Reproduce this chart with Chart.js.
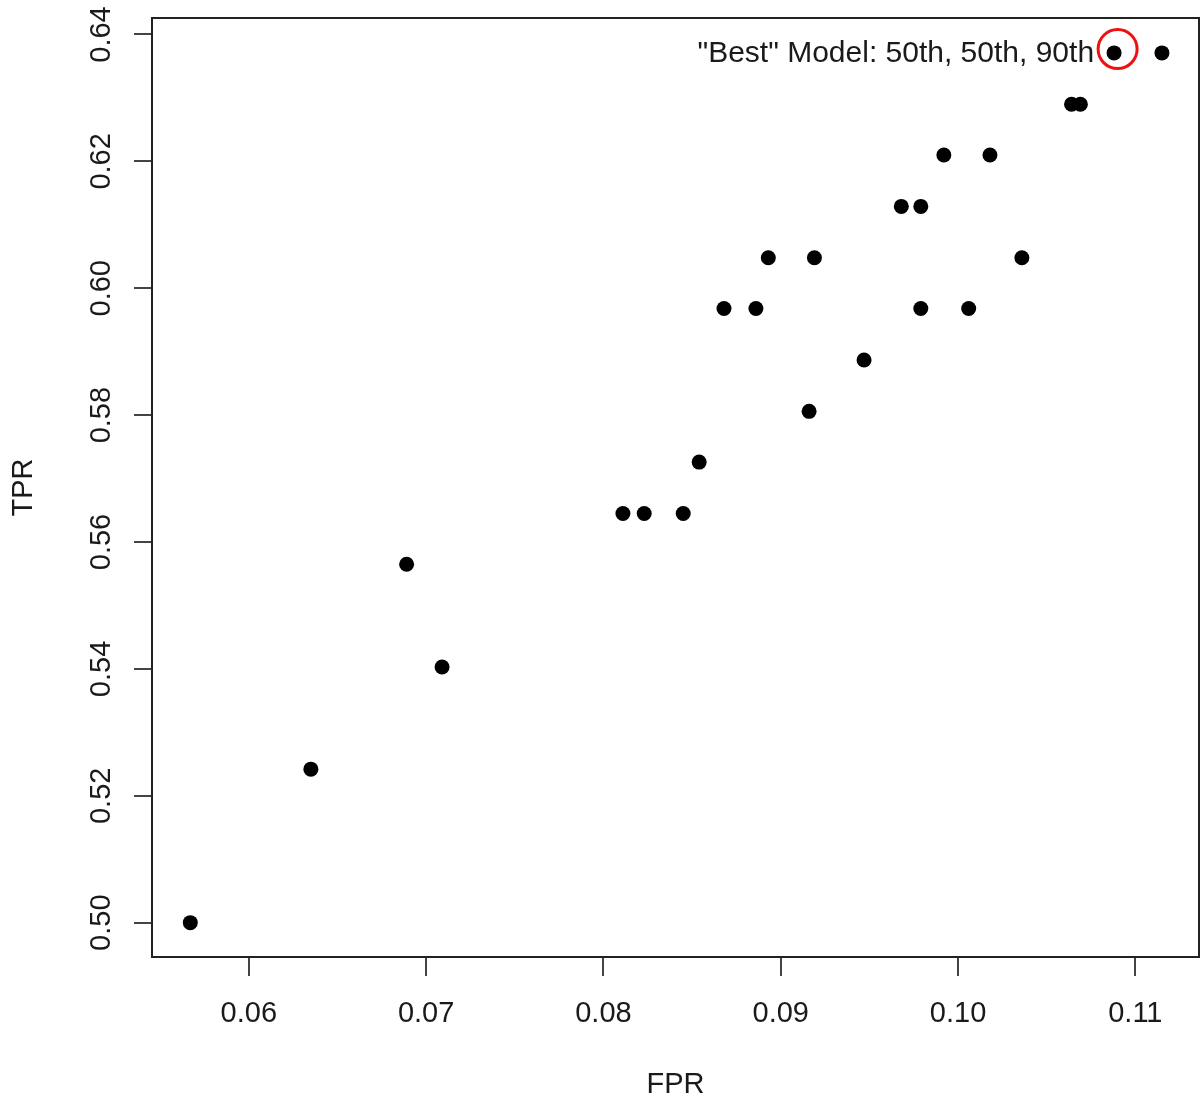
<!DOCTYPE html>
<html>
<head>
<meta charset="utf-8">
<title>TPR vs FPR</title>
<script src="https://cdn.jsdelivr.net/npm/chart.js@4/dist/chart.umd.min.js"></script>
<style>
  html, body { margin: 0; padding: 0; background: #fff; }
  #wrap { width: 1200px; height: 1100px; position: relative; }
</style>
</head>
<body>
<div id="wrap"><canvas id="roc"></canvas></div>
<script>
// FPR / TPR for each model
const fpr = [0.0567, 0.0635, 0.0689, 0.0709, 0.0811, 0.0823, 0.0845, 0.0854, 0.0916, 0.0947,
             0.0868, 0.0886, 0.0979, 0.1006, 0.0893, 0.0919, 0.1036, 0.0968, 0.0979, 0.0992,
             0.1018, 0.1064, 0.1069, 0.1088, 0.1115];
const tpr = [0.5000, 0.5242, 0.5565, 0.5403, 0.5645, 0.5645, 0.5645, 0.5726, 0.5806, 0.5887,
             0.5968, 0.5968, 0.5968, 0.5968, 0.6048, 0.6048, 0.6048, 0.6129, 0.6129, 0.6210,
             0.6210, 0.6290, 0.6290, 0.6371, 0.6371];
// the highlighted model and the red ring drawn round it
const bestPoint = [0.1088, 0.6371];
const ringPoint = [0.1090, 0.6377];
const bestLabel = '"Best" Model: 50th, 50th, 90th';
// axis ticks
const xTicks = [0.06, 0.07, 0.08, 0.09, 0.10, 0.11];
const yTicks = [0.50, 0.52, 0.54, 0.56, 0.58, 0.60, 0.62, 0.64];
const xRange = [0.05454, 0.11359];
const yRange = [0.49459, 0.6426];

;(function () {
  const FONT = "'Liberation Sans', Arial, Helvetica, sans-serif";
  const INK = '#1a1a1a';
  const points = fpr.map((x, i) => ({ x, y: tpr[i] }));

  // box round the plot, rotated y labels (R style), and the annotation text
  const decor = {
    id: 'decor',
    afterDraw(chart) {
      const { ctx, chartArea: a, scales: { x, y } } = chart;
      ctx.save();
      ctx.strokeStyle = '#222';
      ctx.lineWidth = 2;
      ctx.strokeRect(a.left, a.top, a.right - a.left, a.bottom - a.top);

      ctx.fillStyle = INK;
      ctx.font = '29px ' + FONT;
      ctx.textAlign = 'center';
      ctx.textBaseline = 'alphabetic';
      y.ticks.forEach(t => {
        ctx.save();
        ctx.translate(110, y.getPixelForValue(t.value));
        ctx.rotate(-Math.PI / 2);
        ctx.fillText(t.value.toFixed(2), 0, 0);
        ctx.restore();
      });

      ctx.font = '30px ' + FONT;
      ctx.textAlign = 'right';
      ctx.fillText(bestLabel, x.getPixelForValue(bestPoint[0]) - 20, y.getPixelForValue(bestPoint[1]) + 9);
      ctx.restore();
    }
  };

  // keep the plot box where the reference has it: no extra label padding
  function noPad(s) {
    s.paddingLeft = 0; s.paddingRight = 0; s.paddingTop = 0; s.paddingBottom = 0;
  }

  new Chart(document.getElementById('roc'), {
    type: 'scatter',
    data: {
      datasets: [
        {
          label: 'models',
          data: points,
          pointRadius: 7.5,
          pointBorderWidth: 0,
          pointBackgroundColor: '#000',
          pointBorderColor: '#000'
        },
        {
          label: 'best',
          data: [{ x: ringPoint[0], y: ringPoint[1] }],
          pointRadius: 19.5,
          pointBorderWidth: 3,
          pointBackgroundColor: 'rgba(0,0,0,0)',
          pointBorderColor: '#f01010'
        }
      ]
    },
    options: {
      responsive: true,
      maintainAspectRatio: false,
      animation: false,
      devicePixelRatio: 1,
      layout: { autoPadding: false, padding: { top: 18, right: 1, left: 0, bottom: 0 } },
      plugins: { legend: { display: false }, tooltip: { enabled: false } },
      scales: {
        x: {
          type: 'linear',
          min: xRange[0],
          max: xRange[1],
          afterBuildTicks: s => { s.ticks = xTicks.map(v => ({ value: v })); },
          afterFit: s => { s.height = 143; noPad(s); },
          grid: { drawOnChartArea: false, drawTicks: true, tickLength: 19, color: '#444', lineWidth: 2 },
          border: { display: false },
          ticks: {
            autoSkip: false, maxRotation: 0, padding: 21, color: INK,
            font: { family: FONT, size: 29 },
            callback: v => Number(v).toFixed(2)
          },
          title: {
            display: true, text: 'FPR', color: INK,
            font: { family: FONT, size: 29, lineHeight: 1 },
            padding: { top: 0, bottom: 0.5 }
          }
        },
        y: {
          type: 'linear',
          min: yRange[0],
          max: yRange[1],
          afterBuildTicks: s => { s.ticks = yTicks.map(v => ({ value: v })); },
          afterFit: s => { s.width = 152; noPad(s); },
          grid: { drawOnChartArea: false, drawTicks: true, tickLength: 18, color: '#444', lineWidth: 2 },
          border: { display: false },
          ticks: { display: false },
          title: {
            display: true, text: 'TPR', color: INK,
            font: { family: FONT, size: 29, lineHeight: 1 },
            padding: { top: 9.5, bottom: 0 }
          }
        }
      }
    },
    plugins: [decor]
  });
})();
</script>
</body>
</html>
